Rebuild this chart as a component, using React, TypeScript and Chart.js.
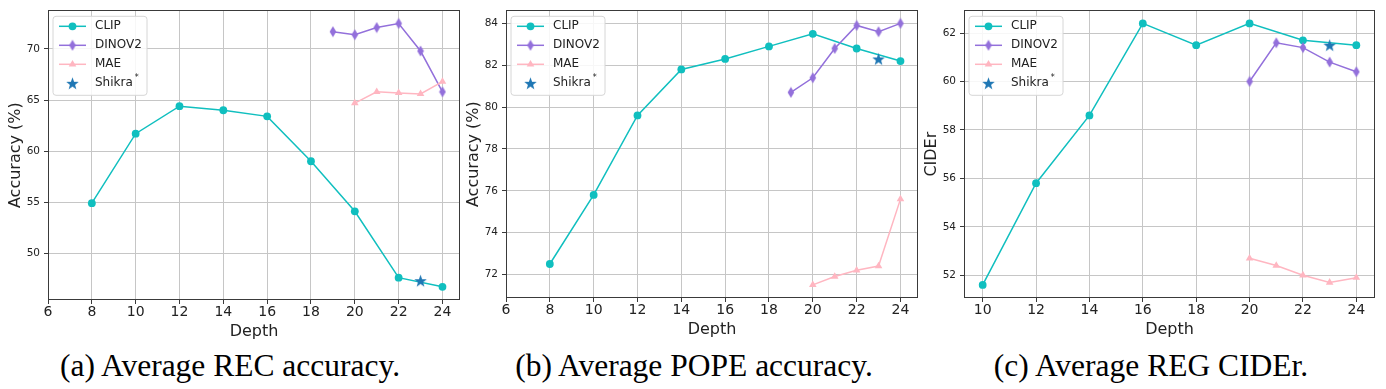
import React, { useEffect, useRef } from "react";
import { Chart, registerables } from "chart.js";
Chart.register(...registerables);

// ---------- data ----------
const depthTicksAB = [6, 8, 10, 12, 14, 16, 18, 20, 22, 24];
const depthTicksC = [10, 12, 14, 16, 18, 20, 22, 24];

const clipDepthAB = [8, 10, 12, 14, 16, 18, 20, 22, 24];
const clipDepthC = [10, 12, 14, 16, 18, 20, 22, 24];
const dinoDepthAB = [19, 20, 21, 22, 23, 24];
const dinoDepthC = [20, 21, 22, 23, 24];
const maeDepth = [20, 21, 22, 23, 24];
const shikraDepth = [23];

const recClip = [54.9, 61.7, 64.4, 64.0, 63.4, 59.0, 54.1, 47.6, 46.7];
const recDino = [71.7, 71.4, 72.1, 72.5, 69.8, 65.8];
const recMae = [64.7, 65.8, 65.7, 65.6, 66.8];
const recShikra = [47.3];
const recYTicks = [50, 55, 60, 65, 70];

const popeClip = [72.5, 75.8, 79.6, 81.8, 82.3, 82.9, 83.5, 82.8, 82.2];
const popeDino = [80.7, 81.4, 82.8, 83.9, 83.6, 84.0];
const popeMae = [71.5, 71.9, 72.2, 72.4, 75.6];
const popeShikra = [82.3];
const popeYTicks = [72, 74, 76, 78, 80, 82, 84];

const regClip = [51.6, 55.8, 58.6, 62.4, 61.5, 62.4, 61.7, 61.5];
const regDino = [60.0, 61.6, 61.4, 60.8, 60.4];
const regMae = [52.7, 52.4, 52.0, 51.7, 51.9];
const regShikra = [61.5];
const regYTicks = [52, 54, 56, 58, 60, 62];

const seriesNames = ["CLIP", "DINOV2", "MAE", "Shikra"];
const captions = ["(a) Average REC accuracy.", "(b) Average POPE accuracy.", "(c) Average REG CIDEr."];
const yTitles = ["Accuracy (%)", "Accuracy (%)", "CIDEr"];
const xTitle = "Depth";

// ---------- styles ----------
const COLORS = { clip: "#10bfbf", dino: "#9370db", mae: "#ffb6c1", shikra: "#1f77b4" };
const FONT = "'DejaVu Sans', sans-serif";

function makeDiamond(color: string) {
  const c = document.createElement("canvas");
  c.width = 8; c.height = 12;
  const g = c.getContext("2d")!;
  g.fillStyle = color;
  g.beginPath();
  g.moveTo(4, 0.6); g.lineTo(7.3, 6); g.lineTo(4, 11.4); g.lineTo(0.7, 6);
  g.closePath(); g.fill();
  return c;
}
function makeStar(color: string) {
  const R = 6.6, r = 2.7, size = 15;
  const c = document.createElement("canvas");
  c.width = size; c.height = size;
  const g = c.getContext("2d")!;
  g.fillStyle = color;
  g.beginPath();
  for (let k = 0; k < 10; k++) {
    const rad = k % 2 ? r : R;
    const a = -Math.PI / 2 + (k * Math.PI) / 5;
    g.lineTo(size / 2 + rad * Math.cos(a), size / 2 + 0.6 + rad * Math.sin(a));
  }
  g.closePath(); g.fill();
  return c;
}

function pts(xs: number[], ys: number[]) {
  return xs.map((x, i) => ({ x, y: ys[i] }));
}

type PanelDef = {
  spineLeft: number; spineRight: number; bottom: number;
  xTicks: number[]; xMinFixed?: number; yTicks: number[];
  clipX: number[]; clipY: number[]; dinoX: number[]; dinoY: number[];
  maeX: number[]; maeY: number[]; shX: number[]; shY: number[];
  yTitle: string; caption: string; captionX: number;
};

const panels: PanelDef[] = [
  { spineLeft: 48, spineRight: 464, bottom: 300, xTicks: depthTicksAB, xMinFixed: 6, yTicks: recYTicks,
    clipX: clipDepthAB, clipY: recClip, dinoX: dinoDepthAB, dinoY: recDino, maeX: maeDepth, maeY: recMae,
    shX: shikraDepth, shY: recShikra, yTitle: yTitles[0], caption: captions[0], captionX: 230 },
  { spineLeft: 506, spineRight: 922, bottom: 298, xTicks: depthTicksAB, xMinFixed: 6, yTicks: popeYTicks,
    clipX: clipDepthAB, clipY: popeClip, dinoX: dinoDepthAB, dinoY: popeDino, maeX: maeDepth, maeY: popeMae,
    shX: shikraDepth, shY: popeShikra, yTitle: yTitles[1], caption: captions[1], captionX: 694 },
  { spineLeft: 964, spineRight: 1379, bottom: 298, xTicks: depthTicksC, yTicks: regYTicks,
    clipX: clipDepthC, clipY: regClip, dinoX: dinoDepthC, dinoY: regDino, maeX: maeDepth, maeY: regMae,
    shX: shikraDepth, shY: regShikra, yTitle: yTitles[2], caption: captions[2], captionX: 1151 },
];

const AXIS_W = 42;
const XAXIS_H = 45;

function Panel({ p }: { p: PanelDef }) {
  const ref = useRef<HTMLCanvasElement>(null);
  const canvasLeft = p.spineLeft - AXIS_W;
  const width = p.spineRight + 4 - canvasLeft;
  const height = p.bottom + XAXIS_H;

  useEffect(() => {
    const diamond = makeDiamond(COLORS.dino);
    const star = makeStar(COLORS.shikra);

    const allX = [...p.clipX, ...p.dinoX, ...p.maeX, ...p.shX];
    const allY = [...p.clipY, ...p.dinoY, ...p.maeY, ...p.shY];
    const xmn = Math.min(...allX), xmx = Math.max(...allX);
    const ymn = Math.min(...allY), ymx = Math.max(...allY);
    const xm = (xmx - xmn) * 0.05, ym = (ymx - ymn) * 0.05;

    const legendItems = [
      { label: seriesNames[0], color: COLORS.clip, line: true, marker: "circle" },
      { label: seriesNames[1], color: COLORS.dino, line: true, marker: "diamond" },
      { label: seriesNames[2], color: COLORS.mae, line: true, marker: "triangle" },
      { label: seriesNames[3], color: COLORS.shikra, line: false, marker: "star", sup: "*" },
    ];

    const drawMarker = (ctx: CanvasRenderingContext2D, kind: string, color: string, x: number, y: number) => {
      ctx.fillStyle = color;
      if (kind === "circle") {
        ctx.beginPath(); ctx.arc(x, y, 3.9, 0, Math.PI * 2); ctx.fill();
      } else if (kind === "triangle") {
        const r = 4.4;
        ctx.beginPath();
        ctx.moveTo(x, y - r);
        ctx.lineTo(x + r * Math.sin((2 * Math.PI) / 3), y - r * Math.cos((2 * Math.PI) / 3));
        ctx.lineTo(x + r * Math.sin((4 * Math.PI) / 3), y - r * Math.cos((4 * Math.PI) / 3));
        ctx.closePath(); ctx.fill();
      } else if (kind === "diamond") {
        ctx.drawImage(diamond, x - diamond.width / 2, y - diamond.height / 2);
      } else if (kind === "star") {
        ctx.drawImage(star, x - star.width / 2, y - star.height / 2);
      }
    };

    const framePlugin = {
      id: "frameLegend",
      afterDatasetsDraw(chart: any) {
        const { ctx, chartArea: a } = chart;
        ctx.save();
        ctx.strokeStyle = "#3a3a3a";
        ctx.lineWidth = 1;
        ctx.strokeRect(Math.round(a.left) + 0.5, Math.round(a.top) + 0.5, Math.round(a.right - a.left) - 1, Math.round(a.bottom - a.top) - 1);
        // legend
        const bx = a.left + 5, by = a.top + 6, bw = 94, bh = 79, rr = 3;
        ctx.beginPath();
        ctx.moveTo(bx + rr, by);
        ctx.arcTo(bx + bw, by, bx + bw, by + bh, rr);
        ctx.arcTo(bx + bw, by + bh, bx, by + bh, rr);
        ctx.arcTo(bx, by + bh, bx, by, rr);
        ctx.arcTo(bx, by, bx + bw, by, rr);
        ctx.closePath();
        ctx.fillStyle = "rgba(255,255,255,0.85)";
        ctx.fill();
        ctx.strokeStyle = "#d6d6d6";
        ctx.stroke();
        legendItems.forEach((it: any, i) => {
          const cy = by + 10 + i * 19;
          if (it.line) {
            ctx.strokeStyle = it.color; ctx.lineWidth = 1.5;
            ctx.beginPath(); ctx.moveTo(bx + 6, cy); ctx.lineTo(bx + 33, cy); ctx.stroke();
          }
          drawMarker(ctx, it.marker, it.color, bx + 19.5, cy);
          ctx.fillStyle = "#222";
          ctx.font = `12px ${FONT}`;
          ctx.textBaseline = "middle";
          ctx.textAlign = "left";
          ctx.fillText(it.label, bx + 42, cy);
          if (it.sup) {
            const w = ctx.measureText(it.label).width;
            ctx.font = `8px ${FONT}`;
            ctx.fillText(it.sup, bx + 42 + w + 2, cy - 5);
          }
        });
        ctx.restore();
      },
    };

    const chart = new Chart(ref.current!, {
      type: "line",
      data: {
        datasets: [
          { label: seriesNames[0], data: pts(p.clipX, p.clipY), borderColor: COLORS.clip, backgroundColor: COLORS.clip,
            borderWidth: 1.5, pointStyle: "circle", pointRadius: 3.9, pointBorderWidth: 0, order: 3 },
          { label: seriesNames[1], data: pts(p.dinoX, p.dinoY), borderColor: COLORS.dino, backgroundColor: COLORS.dino,
            borderWidth: 1.5, pointStyle: diamond as any, pointRadius: 5, order: 2 },
          { label: seriesNames[2], data: pts(p.maeX, p.maeY), borderColor: COLORS.mae, backgroundColor: COLORS.mae,
            borderWidth: 1.5, pointStyle: "triangle", pointRadius: 4.4, pointBorderWidth: 0, order: 1 },
          { label: seriesNames[3], data: pts(p.shX, p.shY), borderColor: COLORS.shikra, backgroundColor: COLORS.shikra,
            showLine: false, pointStyle: star as any, pointRadius: 7, order: 0 },
        ],
      },
      options: {
        responsive: false,
        animation: false,
        devicePixelRatio: 1,
        layout: { padding: { left: 0, right: 4, top: 8, bottom: 0 } },
        plugins: { legend: { display: false }, tooltip: { enabled: false } },
        elements: { line: { tension: 0 } },
        scales: {
          x: {
            type: "linear",
            min: p.xMinFixed !== undefined ? p.xMinFixed : xmn - xm,
            max: xmx + xm,
            afterBuildTicks: (axis: any) => { axis.ticks = p.xTicks.map((v) => ({ value: v })); },
            afterFit: (axis: any) => { axis.height = XAXIS_H; },
            grid: { color: "#c6c6c6", lineWidth: 1, drawTicks: true, tickLength: 4, tickColor: "#3a3a3a", tickWidth: 1 },
            border: { display: false },
            ticks: { autoSkip: false, maxRotation: 0, padding: 0, color: "#222", font: { family: FONT, size: 14 },
              callback: (v: any) => String(v) },
            title: { display: true, text: xTitle, color: "#222", font: { family: FONT, size: 16 }, padding: { top: 0, bottom: 4 } },
          },
          y: {
            type: "linear",
            min: ymn - ym,
            max: ymx + ym,
            afterBuildTicks: (axis: any) => { axis.ticks = p.yTicks.map((v) => ({ value: v })); },
            afterFit: (axis: any) => { axis.width = AXIS_W; },
            grid: { color: "#c6c6c6", lineWidth: 1, drawTicks: true, tickLength: 4, tickColor: "#3a3a3a", tickWidth: 1 },
            border: { display: false },
            ticks: { autoSkip: false, padding: 4, color: "#222", font: { family: FONT, size: 10.5 },
              callback: (v: any) => String(v) },
            title: { display: true, text: p.yTitle, color: "#222", font: { family: FONT, size: 16 }, padding: { top: 0, bottom: 0 } },
          },
        },
      },
      plugins: [framePlugin],
    } as any);
    return () => chart.destroy();
  }, []);

  return (
    <div style={{ position: "absolute", left: canvasLeft, top: 0, width, height }}>
      <canvas ref={ref} width={width} height={height} style={{ width, height, display: "block" }} />
    </div>
  );
}

export default function App() {
  return (
    <div style={{ position: "absolute", left: 0, top: 0, width: 1386, height: 389, background: "#fff", overflow: "hidden" }}>
      {panels.map((p, i) => (
        <Panel key={i} p={p} />
      ))}
      {panels.map((p, i) => (
        <div key={"c" + i} style={{ position: "absolute", left: p.captionX - 250, width: 500, top: 350.3, textAlign: "center",
          fontFamily: "'Liberation Serif', 'Times New Roman', serif", fontSize: 31.5, lineHeight: 1, color: "#000", whiteSpace: "nowrap" }}>
          {p.caption}
        </div>
      ))}
    </div>
  );
}
